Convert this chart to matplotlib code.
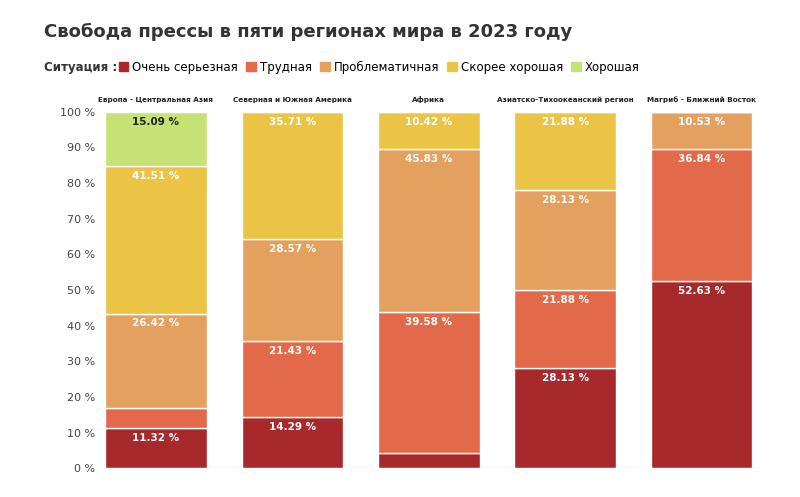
import matplotlib.pyplot as plt
import numpy as np

regions = ["Европа - Центральная Азия", "Северная и Южная Америка", "Африка",
           "Азиатско-Тихоокеанский регион", "Магриб - Ближний Восток"]
categories = ["Очень серьезная", "Трудная", "Проблематичная", "Скорее хорошая", "Хорошая"]
very_serious = [11.32, 14.29, 4.17, 28.13, 52.63]
difficult = [5.66, 21.43, 39.58, 21.88, 36.84]
problematic = [26.42, 28.57, 45.83, 28.13, 10.53]
fairly_good = [41.51, 35.71, 10.42, 21.88, 0]
good = [15.09, 0, 0, 0, 0]
series = [very_serious, difficult, problematic, fairly_good, good]
colors = ["#a8292b", "#e2694a", "#e3a05e", "#ecc445", "#c6e275"]
text_colors = ["white", "white", "white", "white", "#222222"]

fig, ax = plt.subplots(figsize=(8, 4.97), dpi=100)
fig.subplots_adjust(left=0.125, right=0.947, top=0.775, bottom=0.058)

x = np.arange(len(regions))
bottom = np.zeros(len(regions))
for j, s in enumerate(series):
    vals = np.array(s)
    ax.bar(x, vals, bottom=bottom, width=0.745, color=colors[j], edgecolor="white", linewidth=1)
    for i, v in enumerate(vals):
        if v >= 10:
            ax.text(x[i], bottom[i] + v - 2.8, f"{v:.2f} %", ha="center", va="center",
                    fontsize=7.5, fontweight="bold", color=text_colors[j])
    bottom += vals

for i, r in enumerate(regions):
    ax.text(x[i], 102.5, r, ha="center", va="bottom", fontsize=5.2, fontweight="bold", color="#222222")

ax.set_xlim(-0.41, 4.41)
ax.set_ylim(0, 100)
ax.set_xticks([])
for sp in ax.spines.values():
    sp.set_visible(False)
ax.axhline(0, color="#999999", linewidth=0.8)
ax.set_yticks(np.arange(0, 101, 10))
ax.set_yticklabels([f"{t} %" for t in range(0, 101, 10)])
ax.tick_params(axis="y", length=0, labelsize=8, colors="#444444")

fig.text(0.055, 0.935, "Свобода прессы в пяти регионах мира в 2023 году",
         fontsize=13, fontweight="bold", color="#333333", va="center")
fig.text(0.055, 0.865, "Ситуация :", fontsize=8.5, fontweight="bold", color="#333333", va="center")
handles = [plt.Rectangle((0, 0), 1, 1, color=c) for c in colors]
fig.legend(handles, categories, loc="center left", bbox_to_anchor=(0.135, 0.865),
           ncol=5, frameon=False, fontsize=8.5, handlelength=0.8, handleheight=0.8,
           columnspacing=0.7, handletextpad=0.35)

fig.savefig("out.png")
